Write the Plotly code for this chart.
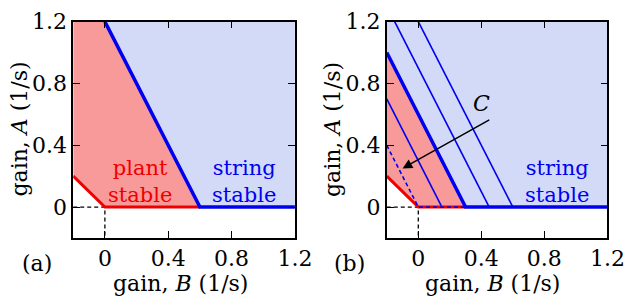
import plotly.graph_objects as go

# ---------------- data ----------------
x_ticks = [0, 0.4, 0.8, 1.2]
y_ticks = [0, 0.4, 0.8, 1.2]
tick_text_x = ["0", "0.4", "0.8", "1.2"]
tick_text_y = ["0", "0.4", "0.8", "1.2"]

# panel (a)
a_red_fill_B = [-0.2, 0.0, 0.6, 0.0, -0.2]
a_red_fill_A = [0.2, 0.0, 0.0, 1.2, 1.2]
a_blue_fill_B = [0.0, 0.6, 1.2, 1.2]
a_blue_fill_A = [1.2, 0.0, 0.0, 1.2]
a_red_line_B = [-0.2, 0.0, 0.6]
a_red_line_A = [0.2, 0.0, 0.0]
a_blue_line_B = [0.0, 0.6, 1.2]
a_blue_line_A = [1.2, 0.0, 0.0]

# panel (b)
b_red_fill_B = [-0.2, 0.0, 0.3, -0.2]
b_red_fill_A = [0.2, 0.0, 0.0, 1.0]
b_blue_fill_B = [-0.2, 0.3, 1.2, 1.2, -0.2]
b_blue_fill_A = [1.0, 0.0, 0.0, 1.2, 1.2]
b_red_line_B = [-0.2, 0.0, 0.3]
b_red_line_A = [0.2, 0.0, 0.0]
b_dash_B = [-0.2, 0.0, 0.3]
b_dash_A = [0.4, 0.0, 0.0]
b_thick_B = [-0.2, 0.3, 1.2]
b_thick_A = [1.0, 0.0, 0.0]
b_thin_lines = [
    ([-0.2, 0.15], [0.7, 0.0]),
    ([-0.15, 0.45], [1.2, 0.0]),
    ([0.0, 0.6], [1.2, 0.0]),
]
arrow_tail = (0.46, 0.57)
arrow_head = (-0.1, 0.25)
c_label = (0.40, 0.67)

# black dashed guides
guide_B = [-0.2, 0.0, 0.0]
guide_A = [0.0, 0.0, -0.2]

# ---------------- style ----------------
RED_FILL = "#f89a9a"
BLUE_FILL = "#d2daf7"
RED = "#ee0000"
BLUE = "#0000f0"
FONT = "DejaVu Serif"
FS = 22

fig = go.Figure()


def add(xs, ys, ax, **kw):
    xa = "x" if ax == 1 else "x2"
    ya = "y" if ax == 1 else "y2"
    fig.add_trace(go.Scatter(x=xs, y=ys, xaxis=xa, yaxis=ya, showlegend=False,
                             hoverinfo="skip", **kw))


# panel a
add(a_red_fill_B, a_red_fill_A, 1, fill="toself", fillcolor=RED_FILL, mode="none")
add(a_blue_fill_B, a_blue_fill_A, 1, fill="toself", fillcolor=BLUE_FILL, mode="none")
add(guide_B, guide_A, 1, mode="lines", line=dict(color="black", width=1.3, dash="4px,3px"))
add(a_red_line_B, a_red_line_A, 1, mode="lines", line=dict(color=RED, width=3))
add(a_blue_line_B, a_blue_line_A, 1, mode="lines", line=dict(color=BLUE, width=3.5))

# panel b
add(b_red_fill_B, b_red_fill_A, 2, fill="toself", fillcolor=RED_FILL, mode="none")
add(b_blue_fill_B, b_blue_fill_A, 2, fill="toself", fillcolor=BLUE_FILL, mode="none")
add(guide_B, guide_A, 2, mode="lines", line=dict(color="black", width=1.3, dash="4px,3px"))
for xs, ys in b_thin_lines:
    add(xs, ys, 2, mode="lines", line=dict(color=BLUE, width=1.6))
add(b_red_line_B, b_red_line_A, 2, mode="lines", line=dict(color=RED, width=3))
add(b_dash_B, b_dash_A, 2, mode="lines", line=dict(color=BLUE, width=1.6, dash="4px,3px"))
add(b_thick_B, b_thick_A, 2, mode="lines", line=dict(color=BLUE, width=3.5))

ax_common = dict(range=[-0.2001, 1.2001], showline=True, linecolor="black", linewidth=1.5,
                 mirror="ticks", ticks="inside", ticklen=7, tickcolor="black",
                 tickwidth=1.3, showgrid=False, zeroline=False,
                 ticklabeloverflow="allow",
                 tickfont=dict(family=FONT, size=FS, color="black"))

dom_y = [0.2124, 0.9666]
fig.update_layout(
    width=640, height=299, margin=dict(l=0, r=0, t=0, b=0),
    plot_bgcolor="white", paper_bgcolor="white",
    xaxis=dict(domain=[0.1175, 0.4734], tickvals=x_ticks, ticktext=tick_text_x,
               anchor="y", **ax_common),
    yaxis=dict(domain=dom_y, tickvals=y_ticks, ticktext=tick_text_y, anchor="x",
               **ax_common),
    xaxis2=dict(domain=[0.6208, 0.975], tickvals=x_ticks, ticktext=tick_text_x,
                anchor="y2", **ax_common),
    yaxis2=dict(domain=dom_y, tickvals=y_ticks, ticktext=tick_text_y, anchor="x2",
                **ax_common),
)

tf = dict(family=FONT, size=FS, color="black")
ann = []
# region labels
for xr, yr, bx, txt, col in [("x", "y", 0.22, "plant<br>stable", RED),
                             ("x", "y", 0.88, "string<br>stable", BLUE),
                             ("x2", "y2", 0.88, "string<br>stable", BLUE)]:
    ann.append(dict(x=bx, y=0.165, xref=xr, yref=yr, text=txt, showarrow=False,
                    yanchor="middle", font=dict(family=FONT, size=21, color=col)))
# arrow C
ann.append(dict(x=arrow_head[0], y=arrow_head[1], ax=arrow_tail[0], ay=arrow_tail[1],
                xref="x2", yref="y2", axref="x2", ayref="y2", text="",
                showarrow=True, arrowhead=2, arrowsize=1.3, arrowwidth=1.5,
                arrowcolor="black"))
ann.append(dict(x=c_label[0], y=c_label[1], xref="x2", yref="y2", text="<i>C</i>",
                showarrow=False, font=tf))
# axis titles & panel labels (pixel positions converted to paper)
W, H = 640, 299
for off in (0, 321):
    ann.append(dict(x=(185 + off) / W, y=1 - 283 / H, text="gain, <i>B</i> (1/s)", font=tf))
    ann.append(dict(x=(38 + off) / W, y=1 - 262 / H,
                    text="(a)" if off == 0 else "(b)", font=tf))
    ann.append(dict(x=(20 + off) / W, y=1 - 122 / H, text="gain, <i>A</i> (1/s)",
                    font=tf, textangle=-90))
for a in ann:
    if "xref" not in a:
        a.update(xref="paper", yref="paper", showarrow=False,
                 xanchor="center", yanchor="middle")
fig.update_layout(annotations=ann)

fig.write_html("out.html", config={"displayModeBar": False},
               post_script="document.body.style.margin='0';document.body.style.overflow='hidden';")
